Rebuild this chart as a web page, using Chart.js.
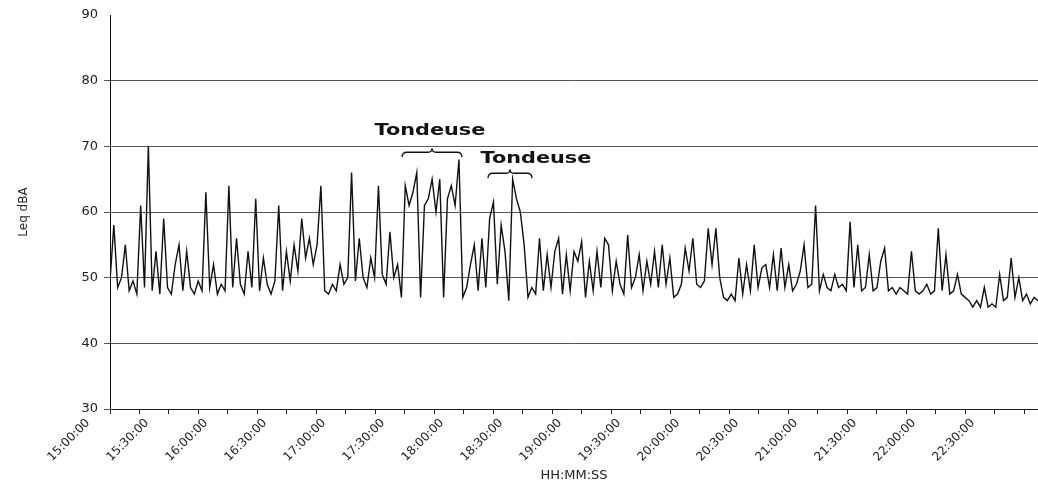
<!DOCTYPE html>
<html>
<head>
<meta charset="utf-8">
<script src="https://cdn.jsdelivr.net/npm/chart.js@4.4.1/dist/chart.umd.min.js"></script>
<style>
  html, body { margin: 0; padding: 0; background: #fff; }
</style>
</head>
<body>
<canvas id="myChart" width="1038" height="486"></canvas>
<script>
// recording starts 15:00:00, one Leq reading every 117 s
const startHour = 15;
const sampleSeconds = 117;

// Leq dBA readings
const leqValues = [
  49.5, 58, 48.5, 50, 55, 48, 49.5, 47.5, 61, 48.5,
  70, 48, 54, 47.5, 59, 48.5, 47.5, 52, 55, 48,
  54, 48.5, 47.5, 49.5, 48, 63, 48.5, 52, 47.5, 49,
  48, 64, 48.5, 56, 49, 47.5, 54, 48.5, 62, 48,
  53, 49, 47.5, 49.5, 61, 48, 54, 49.5, 55, 51,
  59, 53, 56, 52, 55, 64, 48, 47.5, 49, 48,
  52, 49, 50, 66, 49.5, 56, 50, 48.5, 53, 50,
  64, 50.5, 49, 57, 50, 52, 47, 64, 61, 63,
  66, 47, 61, 62, 65, 60, 65, 47, 62, 64,
  61, 68, 47, 48.5, 52, 55, 48, 56, 48.5, 59,
  61.5, 49, 58, 54, 46.5, 65, 62, 60, 55, 47,
  48.5, 47.5, 56, 48, 53.5, 48.5, 54, 56, 47.5, 53.5,
  48, 54, 52.5, 55.5, 47, 52.5, 48, 54, 48.5, 56,
  55, 48, 52.5, 49, 47.5, 56.5, 48.5, 50, 53.5, 48,
  52.5, 49, 54, 48.5, 55, 49, 53, 47, 47.5, 49,
  54.5, 51, 56, 49, 48.5, 49.5, 57.5, 52, 57.5, 50,
  47, 46.5, 47.5, 46.5, 53, 47.5, 52, 48, 55, 48.5,
  51.5, 52, 48.5, 53.5, 48, 54.5, 48.5, 52, 48, 49,
  51, 55, 48.5, 49, 61, 48, 50.5, 48.5, 48, 50.5,
  48.5, 49, 48, 58.5, 48.5, 55, 48, 48.5, 53.5, 48,
  48.5, 52.5, 54.5, 48, 48.5, 47.5, 48.5, 48, 47.5, 54,
  48, 47.5, 48, 49, 47.5, 48, 57.5, 48, 53.5, 47.5,
  48, 50.5, 47.5, 47, 46.5, 45.5, 46.5, 45.5, 48.5, 45.5,
  46, 45.5, 50.5, 46.5, 47, 53, 47, 50, 46.5, 47.5,
  46, 47, 46.5
];

// y axis range / step
const yMin = 30;
const yMax = 90;
const yStep = 10;

// annotations (minutes after 15:00, dBA)
const noteText  = ['Tondeuse', 'Tondeuse'];
const noteFrom  = [148.5, 192.2];
const noteTo    = [179, 214.6];
const noteBrace = [69.1, 65.9];
const noteX     = [162.7, 216.6];
const noteY     = [72.3, 68.1];

const points = leqValues.map((v, i) => ({ x: i * sampleSeconds / 60, y: v }));
const lastMinute = (leqValues.length - 1) * sampleSeconds / 60;

function hhmmss(min) {
  const h = startHour + Math.floor(min / 60);
  const m = Math.round(min % 60);
  return h + ':' + String(m).padStart(2, '0') + ':00';
}

const notePlugin = {
  id: 'notes',
  afterDatasetsDraw(chart) {
    const ctx = chart.ctx;
    const xs = chart.scales.x, ys = chart.scales.y;
    ctx.save();
    ctx.strokeStyle = '#111';
    ctx.fillStyle = '#111';
    ctx.lineWidth = 1.3;
    ctx.font = 'bold 16px "DejaVu Sans"';
    ctx.textAlign = 'center';
    ctx.textBaseline = 'middle';
    for (let k = 0; k < noteText.length; k++) {
      const x1 = xs.getPixelForValue(noteFrom[k]);
      const x2 = xs.getPixelForValue(noteTo[k]);
      const xm = (x1 + x2) / 2;
      const by = ys.getPixelForValue(noteBrace[k]);
      ctx.beginPath();
      ctx.moveTo(x1, by + 5);
      ctx.quadraticCurveTo(x1, by, x1 + 5, by);
      ctx.lineTo(xm - 4, by);
      ctx.quadraticCurveTo(xm, by, xm, by - 4);
      ctx.quadraticCurveTo(xm, by, xm + 4, by);
      ctx.lineTo(x2 - 5, by);
      ctx.quadraticCurveTo(x2, by, x2, by + 5);
      ctx.stroke();

      ctx.save();
      ctx.translate(xs.getPixelForValue(noteX[k]), ys.getPixelForValue(noteY[k]));
      ctx.scale(1.3, 1);
      ctx.fillText(noteText[k], 0, 0);
      ctx.restore();
    }
    ctx.restore();
  }
};

const ctx = document.getElementById('myChart').getContext('2d');
const chartInstance = new Chart(ctx, {
  type: 'line',
  data: {
    datasets: [{
      data: points,
      borderColor: '#111',
      borderWidth: 1.4,
      pointRadius: 0,
      tension: 0,
      fill: false
    }]
  },
  options: {
    responsive: false,
    animation: false,
    layout: { padding: { top: 15, right: 0, bottom: 0, left: 0 } },
    plugins: {
      legend: { display: false },
      tooltip: { enabled: false }
    },
    scales: {
      x: {
        type: 'linear',
        min: 0,
        max: lastMinute,
        afterFit: (scale) => { scale.height = 77; },
        border: { display: true, color: '#222', width: 1 },
        grid: { drawOnChartArea: false, drawTicks: true, tickLength: 5, color: '#222' },
        ticks: {
          stepSize: 15,
          includeBounds: false,
          autoSkip: false,
          minRotation: 45,
          maxRotation: 45,
          padding: 2,
          labelOffset: -22,
          color: '#222',
          font: { family: 'DejaVu Sans', size: 12 },
          callback: (v) => (v % 30 === 0 ? hhmmss(v) : '')
        },
        title: {
          display: true,
          text: 'HH:MM:SS',
          color: '#222',
          font: { family: 'DejaVu Sans', size: 13 },
          padding: { top: 2, bottom: 3 }
        }
      },
      y: {
        min: yMin,
        max: yMax,
        afterFit: (scale) => { scale.width = 110; },
        border: { display: true, color: '#111', width: 1 },
        grid: {
          color: (c) => (c.tick && c.tick.value === yMax ? 'rgba(0,0,0,0)' : '#555'),
          lineWidth: 1,
          tickLength: 6
        },
        ticks: {
          stepSize: yStep,
          padding: 6,
          color: '#222',
          font: { family: 'DejaVu Sans', size: 13 }
        },
        title: {
          display: true,
          text: 'Leq dBA',
          color: '#222',
          font: { family: 'DejaVu Sans', size: 12 },
          padding: { top: 17, bottom: 4 }
        }
      }
    }
  },
  plugins: [notePlugin]
});
</script>
</body>
</html>
